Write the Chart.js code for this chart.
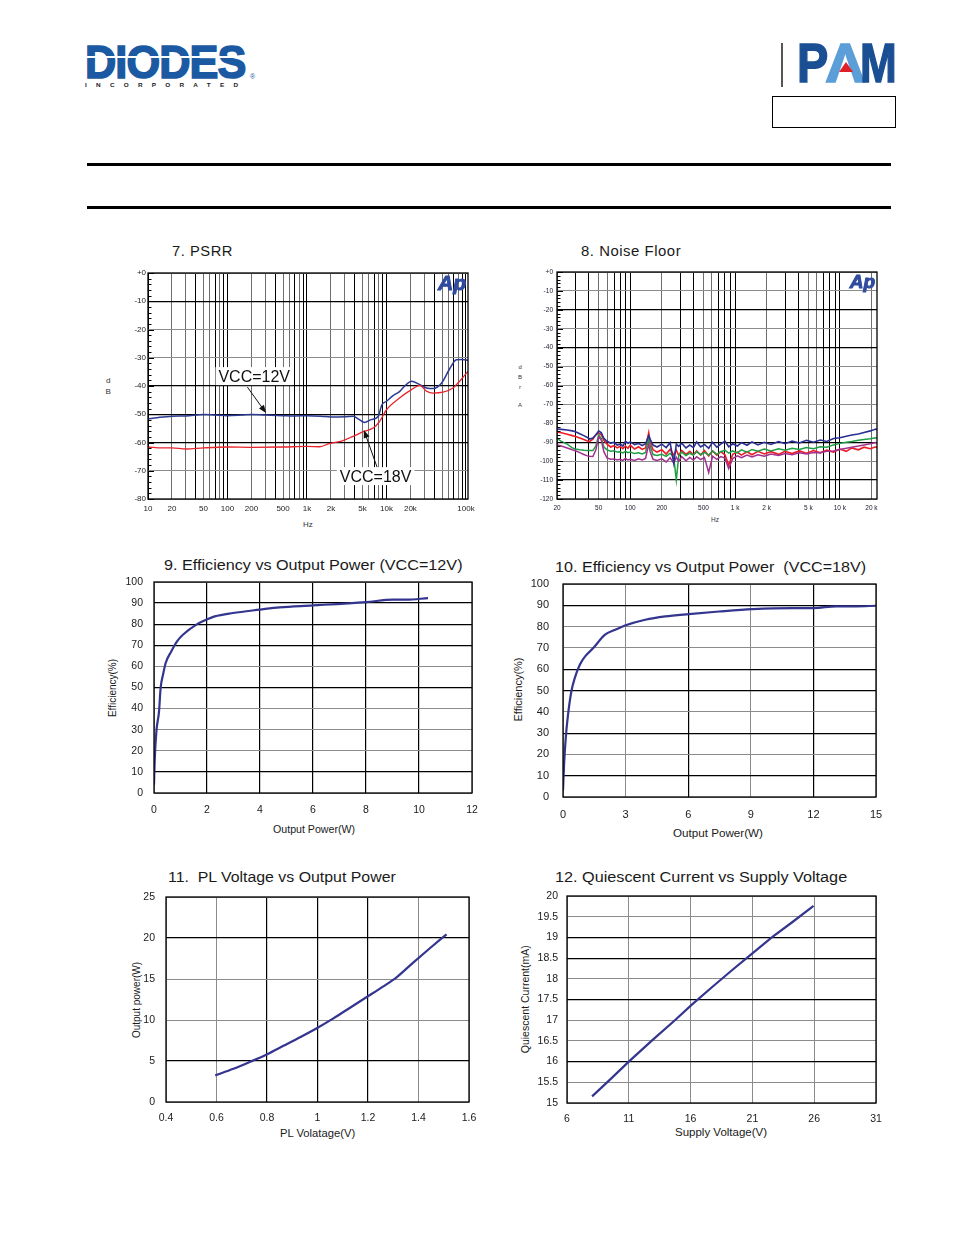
<!DOCTYPE html>
<html><head><meta charset="utf-8"><title>PAM typical performance curves</title>
<script src="https://cdn.jsdelivr.net/npm/chart.js@4.4.0/dist/chart.umd.min.js"></script>
<style>
html,body{margin:0;padding:0;background:#fff;}
body{width:954px;height:1235px;position:relative;overflow:hidden;font-family:"Liberation Sans",Arial,sans-serif;}
canvas{position:absolute;}
.t{position:absolute;white-space:nowrap;color:#1a1a1a;}
.r{position:absolute;background:#000;}
</style></head><body>
<div class="r" style="left:87px;top:163px;width:804px;height:2.5px"></div>
<div class="r" style="left:87px;top:206px;width:804px;height:2.5px"></div>
<div class="r" style="left:781px;top:43px;width:1.5px;height:44px;background:#555"></div>
<div style="position:absolute;left:772px;top:96px;width:122px;height:30px;border:1.3px solid #000"></div>
<script>
// ---------------- data ----------------
const psrr12Freq=[10,13,20,30,50,70,100,150,200,300,500,700,1000,1500,2000,3000,3800,4500,5300,6400,7900,8700,10000,12000,14700,17000,20600,26200,31800,38500,49100,62400,75600,90000,106000];
const psrr12dB=[-51.6,-51.2,-50.7,-50.6,-50.1,-50.3,-50.5,-50.3,-50.1,-50.3,-50.5,-50.6,-50.5,-50.7,-51.0,-50.9,-50.7,-51.8,-52.9,-51.9,-50.7,-46.8,-45.4,-43.5,-41.9,-40.0,-38.3,-39.5,-40.7,-40.9,-39.0,-33.9,-30.7,-30.6,-30.9];
const psrr18Freq=[10,15,20,30,50,100,200,500,1000,1450,1900,2800,3800,5300,6800,8200,10000,14700,20600,26200,31800,38500,51400,68700,83200,106000];
const psrr18dB=[-61.6,-61.9,-61.9,-62.3,-61.9,-61.6,-61.7,-61.6,-61.4,-61.5,-60.4,-59.4,-57.8,-56.0,-54.9,-52.5,-48.4,-44.2,-41.3,-39.8,-41.8,-42.5,-42.2,-40.7,-38.3,-34.8];
const psrrTickValues=[10,20,50,100,200,500,1000,2000,5000,10000,20000,100000];
const psrrTickLabels=['10','20','50','100','200','500','1k','2k','5k','10k','20k','100k'];

const noiseFreq=[20,22,25,28,30,33,36,39,41,44,47,50,53,56,60,65,70,75,80,85,90,95,100,110,120,130,140,150,155,165,180,200,220,240,260,275,290,310,340,370,400,430,470,510,560,610,670,730,800,870,950,1050,1150,1300,1450,1650,1900,2200,2600,3000,3500,4100,4800,5600,6500,7500,8700,10000,11500,13000,15000,17000,19500,22000,22600];
const noiseBlue=[-83.0,-83.2,-83.5,-84.0,-84.5,-85.5,-86.5,-87.5,-88.3,-87.8,-86.0,-84.0,-85.0,-88.0,-89.5,-90.5,-90.0,-91.5,-91.0,-92.0,-89.5,-90.5,-89.8,-91.2,-90.6,-91.8,-90.8,-86.5,-88.5,-91.5,-92.5,-91.0,-92.8,-90.2,-101.0,-91.0,-92.2,-90.5,-93.0,-91.5,-92.8,-89.8,-92.5,-91.2,-93.2,-90.0,-92.6,-91.0,-89.4,-92.4,-90.8,-92.0,-90.2,-91.6,-89.8,-91.4,-90.0,-91.2,-89.6,-90.8,-89.4,-90.4,-89.0,-90.0,-88.8,-89.6,-88.0,-87.6,-86.8,-86.2,-85.6,-84.8,-84.0,-83.0,-83.4];
const noiseGreen=[-88.0,-89.5,-91.0,-93.0,-93.6,-94.0,-94.2,-94.3,-94.3,-94.4,-92.0,-86.0,-88.0,-92.5,-94.0,-94.8,-94.5,-95.2,-95.0,-95.6,-94.8,-95.5,-95.2,-96.0,-95.6,-96.2,-95.4,-88.0,-92.0,-96.5,-97.0,-96.4,-97.5,-95.8,-98.0,-110.0,-97.2,-95.2,-97.0,-95.8,-96.8,-95.0,-96.6,-95.4,-96.8,-94.6,-96.4,-95.0,-94.2,-95.8,-94.6,-95.6,-94.0,-95.2,-93.8,-94.8,-93.6,-94.6,-93.4,-94.2,-93.2,-93.8,-92.8,-93.4,-92.4,-92.6,-91.4,-90.6,-90.0,-89.6,-89.0,-88.6,-88.2,-87.6,-88.0];
const noiseMagenta=[-91.5,-92.0,-93.0,-94.0,-94.5,-95.5,-96.5,-97.2,-97.4,-97.5,-94.0,-87.0,-89.0,-95.0,-98.3,-99.0,-98.8,-99.4,-99.0,-99.6,-98.6,-99.4,-99.0,-99.6,-98.8,-99.4,-98.6,-91.0,-95.0,-99.0,-99.6,-98.8,-100.4,-98.2,-101.0,-98.0,-100.0,-97.6,-99.8,-98.0,-99.4,-97.6,-99.2,-98.0,-106.0,-97.4,-99.0,-97.6,-98.4,-104.0,-98.6,-97.2,-98.2,-96.8,-97.8,-96.6,-97.4,-96.2,-97.0,-96.0,-96.6,-95.6,-96.2,-95.4,-95.6,-94.8,-94.6,-93.8,-93.2,-92.6,-92.0,-91.4,-90.8,-90.2,-90.6];
const noiseRed=[-84.5,-85.0,-85.8,-86.5,-87.0,-87.8,-88.5,-89.3,-89.6,-88.4,-86.0,-85.2,-86.0,-89.0,-91.0,-92.5,-91.8,-93.0,-92.2,-93.4,-92.0,-93.2,-91.6,-93.6,-92.4,-93.8,-93.0,-85.0,-90.0,-94.0,-95.2,-94.0,-96.2,-93.8,-96.8,-94.2,-97.0,-94.4,-96.4,-94.8,-96.6,-94.6,-96.8,-94.4,-97.2,-94.6,-96.8,-95.0,-96.6,-102.0,-96.4,-95.2,-96.8,-95.0,-96.6,-94.8,-96.2,-95.0,-96.4,-94.8,-96.0,-94.6,-95.8,-94.4,-95.6,-94.2,-95.2,-93.6,-94.8,-93.0,-94.0,-92.6,-93.4,-92.4,-93.0];
const noiseTickValues=[20,50,100,200,500,1000,2000,5000,10000,20000];
const noiseTickLabels=['20','50','100','200','500','1 k','2 k','5 k','10 k','20 k'];

const eff12Power=[0,0.025,0.09,0.19,0.25,0.34,0.44,0.65,0.87,1.09,1.6,1.97,2.29,2.98,3.99,4.74,6.0,8.01,9.02,9.52,10.34];
const eff12Value=[3.9,15,29.2,38.7,49.8,56,61.6,67.1,71.9,75,79.8,82.1,83.7,85.3,86.9,88,88.9,90.5,91.6,91.6,92.4];
const eff18Power=[0,0.05,0.13,0.24,0.4,0.56,0.8,1.05,1.45,2.0,2.5,2.97,3.94,4.9,6.03,7.48,9.08,11.0,12.0,13.1,14.07,15.0];
const eff18Value=[3.1,14.9,27.5,38.5,49.5,55.7,62,65.9,69.9,76.1,78.5,80.5,83.2,84.8,85.9,87.1,88.2,88.7,88.7,89.5,89.5,89.8];
const plVoltage=[0.595,0.667,0.733,0.799,0.865,0.931,0.997,1.063,1.129,1.195,1.261,1.313,1.379,1.445,1.511];
const plPower=[3.25,4.05,4.9,5.8,6.85,7.9,9.0,10.2,11.5,12.8,14.1,15.2,17.0,18.75,20.45];
const supplyVoltage=[8.03,9.5,11.0,12.84,14.73,16.08,17.7,19.32,20.95,22.57,24.19,25.95];
const quiescentCurrent=[15.16,15.57,16.0,16.5,17.0,17.37,17.79,18.2,18.6,19.0,19.36,19.76];

// ---------------- helpers ----------------
const FONT='"Liberation Sans", Arial, sans-serif';
const near=(a,b)=>Math.abs(a-b)<1e-6;
const sig=v=>Math.round(v/Math.pow(10,Math.floor(Math.log10(v)+1e-9)));
const fmt=v=>String(Number(Number(v).toFixed(2)));
const pts=(xs,ys)=>xs.map((x,i)=>({x:x,y:ys[i]}));
function linGrid(blacks){return {color:c=>blacks.some(b=>near(b,c.tick.value))?'#000':'#8c8c8c',lineWidth:c=>blacks.some(b=>near(b,c.tick.value))?1.2:1};}
function logGrid(blackSigs){return {color:c=>blackSigs.includes(sig(c.tick.value))?'#000':'#6e6e6e',lineWidth:1};}
function logTicks(from,to){const a=[];for(let e=Math.floor(Math.log10(from));e<=Math.ceil(Math.log10(to));e++){for(let m=1;m<=9;m++){const v=m*Math.pow(10,e);if(v>=from-1e-9&&v<=to+1e-9)a.push(v);}}return a;}
function txt(s,x,y,size,o){
  o=o||{};
  const d=document.createElement('div');d.className='t';d.textContent=s;
  d.style.fontSize=size+'px';d.style.lineHeight=size+'px';
  if(o.weight)d.style.fontWeight=o.weight;
  if(o.color)d.style.color=o.color;
  if(o.ls!==undefined)d.style.letterSpacing=o.ls+'px';
  if(o.stroke)d.style.webkitTextStroke=o.stroke+'px '+(o.color||'#000');
  document.body.appendChild(d);
  const w=d.offsetWidth;
  const sx=o.w?o.w/w:1;
  d.style.top=(y-size/2)+'px';
  if(o.align==='left'){d.style.left=x+'px';d.style.transformOrigin='0 50%';d.style.transform='scaleX('+sx+')';}
  else if(o.rot){d.style.left=x+'px';d.style.transform='translateX(-50%) rotate('+o.rot+'deg)';}
  else{d.style.left=(x-w*sx/2)+'px';d.style.transformOrigin='0 50%';d.style.transform='scaleX('+sx+')';}
  return d;
}

const extras={
  id:'extras',
  afterDraw(chart){
    const e=chart.canvas._extras||{};
    const ctx=chart.ctx,a=chart.chartArea,x=chart.scales.x,y=chart.scales.y;
    ctx.save();
    if(e.minor){
      ctx.strokeStyle='#000';ctx.lineWidth=1;ctx.beginPath();
      for(let v=y.min;v<=y.max+1e-9;v+=e.minor){
        const py=Math.round(y.getPixelForValue(v))+0.5;
        const len=Math.abs(v%10)<1e-6?6:3.5;
        ctx.moveTo(a.left,py);ctx.lineTo(a.left+len,py);
      }
      ctx.stroke();
    }
    ctx.strokeStyle='#000';ctx.lineWidth=e.borderW||1.3;
    ctx.strokeRect(a.left,a.top,a.right-a.left,a.bottom-a.top);
    if(e.ap){
      ctx.font='italic bold '+e.ap+'px '+FONT;ctx.fillStyle='#2f4c9e';ctx.strokeStyle='#2f4c9e';ctx.lineWidth=1;
      ctx.textAlign='right';ctx.textBaseline='top';
      ctx.fillText('Ap',a.right-2,a.top+1);ctx.strokeText('Ap',a.right-2,a.top+1);
    }
    (e.notes||[]).forEach(n=>{
      const tx=x.getPixelForValue(n.at[0]),ty=y.getPixelForValue(n.at[1]);
      ctx.font=n.size+'px '+FONT;
      const w=ctx.measureText(n.text).width;
      ctx.fillStyle='#fff';ctx.fillRect(tx-w/2-3,ty-n.size/2-1,w+6,n.size+2);
      ctx.fillStyle='#111';ctx.textAlign='center';ctx.textBaseline='middle';
      ctx.fillText(n.text,tx,ty+1);
      const x0=x.getPixelForValue(n.from[0]),y0=y.getPixelForValue(n.from[1]);
      const x1=x.getPixelForValue(n.to[0]),y1=y.getPixelForValue(n.to[1]);
      const ang=Math.atan2(y1-y0,x1-x0);
      ctx.strokeStyle='#111';ctx.lineWidth=1;ctx.beginPath();ctx.moveTo(x0,y0);ctx.lineTo(x1-6*Math.cos(ang),y1-6*Math.sin(ang));ctx.stroke();
      ctx.beginPath();ctx.moveTo(x1,y1);
      ctx.lineTo(x1-8*Math.cos(ang)+3*Math.sin(ang),y1-8*Math.sin(ang)-3*Math.cos(ang));
      ctx.lineTo(x1-8*Math.cos(ang)-3*Math.sin(ang),y1-8*Math.sin(ang)+3*Math.cos(ang));
      ctx.closePath();ctx.fillStyle='#111';ctx.fill();
    });
    ctx.restore();
  }
};

function makeChart(c){
  const cv=document.createElement('canvas');
  cv.width=c.box[2];cv.height=c.box[3];
  cv.style.left=c.box[0]+'px';cv.style.top=c.box[1]+'px';
  cv._extras=c.extras||{};
  document.body.appendChild(cv);
  const xs={type:c.xType||'linear',min:c.xMin,max:c.xMax,position:'bottom',
    grid:Object.assign({drawTicks:false},c.xGrid),border:{display:false},
    ticks:{autoSkip:false,maxRotation:0,minRotation:0,padding:c.xPad,color:c.tickColor||'#1a1a1a',font:{family:FONT,size:c.xFont},callback:c.xLabel||fmt},
    afterFit:s=>{s.height=c.xH;s.paddingLeft=0;s.paddingRight=0;}};
  if(c.xStep)xs.ticks.stepSize=c.xStep;
  if(c.xTicks)xs.afterBuildTicks=s=>{s.ticks=c.xTicks.map(v=>({value:v}));};
  const ys={type:'linear',min:c.yMin,max:c.yMax,position:'left',
    grid:Object.assign({drawTicks:false},c.yGrid),border:{display:false},
    ticks:{autoSkip:false,stepSize:c.yStep,padding:c.yPad,color:c.tickColor||'#1a1a1a',font:{family:FONT,size:c.yFont},callback:c.yLabel||fmt},
    afterFit:s=>{s.width=c.yW;s.paddingTop=0;s.paddingBottom=0;}};
  return new Chart(cv,{type:'scatter',data:{datasets:c.datasets},
    options:{responsive:false,animation:false,layout:{padding:c.pad},
      plugins:{legend:{display:false},tooltip:{enabled:false}},
      scales:{x:xs,y:ys}},
    plugins:[extras]});
}
function line(data,color,width,smooth){
  return {data:data,showLine:true,borderColor:color,borderWidth:width,pointRadius:0,fill:false,
    tension:smooth?0.4:0,cubicInterpolationMode:smooth?'monotone':'default'};
}
const CURVE='#33358f';

// ---------------- header ----------------
txt('DIODES',85,61.5,46,{weight:'bold',color:'#1b5aa3',w:160,align:'left',ls:-1,stroke:1.6});
const stripe=document.createElement('div');stripe.className='r';stripe.style.cssText='left:84px;top:56px;width:164px;height:1.5px;background:#fff';document.body.appendChild(stripe);
txt('INCORPORATED',85,85.5,5.5,{weight:'bold',color:'#222',w:162,align:'left',ls:8});
txt('®',250,76,7,{color:'#1b5aa3',align:'left'});
txt('P',797,62.5,56,{weight:'bold',color:'#1b4f94',w:31,align:'left',stroke:1.5});
txt('Λ',826,62.5,56,{weight:'bold',color:'#5b9ed8',w:38,align:'left',stroke:1.5});
txt('M',860,62.5,56,{weight:'bold',color:'#1b4f94',w:37,align:'left',stroke:1.5});
const tri=document.createElement('div');tri.style.cssText='position:absolute;left:839px;top:62px;width:0;height:0;border-left:7px solid transparent;border-right:7px solid transparent;border-bottom:10px solid #e01f26';document.body.appendChild(tri);

// ---------------- titles & axis titles ----------------
txt('7. PSRR',172,251,14,{align:'left',w:61,ls:0.5});
txt('8. Noise Floor',581,251,14,{align:'left',w:100,ls:0.5});
txt('9. Efficiency vs Output Power (VCC=12V)',164,565,14,{align:'left',w:298});
txt('10. Efficiency vs Output Power\u00a0\u00a0(VCC=18V)',555,566.5,14,{align:'left',w:311});
txt('11.\u00a0\u00a0PL Voltage vs Output Power',168,876.5,14,{align:'left',w:228});
txt('12. Quiescent Current vs Supply Voltage',555,876.5,14,{align:'left',w:292});

txt('d',108,381,8,{color:'#333'});txt('B',108,392,8,{color:'#333'});
txt('Hz',308,525,8,{color:'#333'});
txt('d',520,367,6,{color:'#334'});txt('B',520,377,6,{color:'#334'});txt('r',520,387,6,{color:'#334'});txt('A',520,405,6,{color:'#334'});
txt('Hz',715,520,6.5,{color:'#334'});
txt('Efficiency(%)',113,688,10,{rot:-90});
txt('Output Power(W)',314,829.5,10.5,{w:82});
txt('Efficiency(%)',518,689,11,{rot:-90});
txt('Output Power(W)',718,833.5,11,{w:90});
txt('Output power(W)',137,1000,10,{rot:-90});
txt('PL Volatage(V)',317,1133,10.5,{w:75});
txt('Quiescent Current(mA)',525,999,10.5,{rot:-90});
txt('Supply Voltage(V)',721,1132,10.5,{w:92});

// ---------------- charts ----------------
const dbLabel=v=>v===0?'+0':String(v);
makeChart({box:[100,240,380,295],pad:{left:0,top:33,right:12,bottom:8},yW:48,xH:28,
  xType:'logarithmic',xMin:10,xMax:106000,xTicks:logTicks(10,100000),
  xLabel:v=>{const i=psrrTickValues.indexOf(v);return i>=0?psrrTickLabels[i]:'';},
  xGrid:logGrid([1,4,7,9]),xPad:5,xFont:8,
  yMin:-80,yMax:0,yStep:10,yLabel:dbLabel,yGrid:linGrid([-10,-40,-50,-60]),yPad:2,yFont:8,tickColor:'#222',
  extras:{minor:2,ap:21,notes:[
    {text:'VCC=12V',size:16,at:[217,-36.5],from:[178,-40.4],to:[306,-49.6]},
    {text:'VCC=18V',size:16,at:[7300,-71.9],from:[7600,-68.7],to:[5200,-55.6]}]},
  datasets:[line(pts(psrr18Freq,psrr18dB),'#e8242c',1.3,true),line(pts(psrr12Freq,psrr12dB),'#2b3a92',1.5,true)]});

makeChart({box:[505,240,385,295],pad:{left:0,top:32,right:13,bottom:14},yW:52,xH:22,
  xType:'logarithmic',xMin:20,xMax:22600,xTicks:logTicks(20,20000),
  xLabel:v=>{const i=noiseTickValues.indexOf(v);return i>=0?noiseTickLabels[i]:'';},
  xGrid:logGrid([1,3,4,7,8,9]),xPad:5,xFont:6.5,
  yMin:-120,yMax:0,yStep:10,yLabel:dbLabel,yGrid:linGrid([-20,-40,-90,-110]),yPad:4,yFont:6.5,tickColor:'#223',
  extras:{minor:2,ap:19},
  datasets:[line(pts(noiseFreq,noiseBlue),'#2a2f92',1.6,false),line(pts(noiseFreq,noiseMagenta),'#a2308f',1.5,false),
    line(pts(noiseFreq,noiseGreen),'#1f9e45',1.5,false),line(pts(noiseFreq,noiseRed),'#ee1c25',1.6,false)]});

makeChart({box:[100,570,385,270],pad:{left:0,top:12,right:13,bottom:22},yW:54,xH:25,
  xMin:0,xMax:12,xStep:2,xGrid:linGrid([2,4,6,8,10]),xPad:11,xFont:10.5,
  yMin:0,yMax:100,yStep:10,yGrid:linGrid([90,80,70,50,10]),yPad:11,yFont:10.5,
  datasets:[line(pts(eff12Power,eff12Value),CURVE,2.2,true)]});

makeChart({box:[505,570,385,275],pad:{left:0,top:14,right:14,bottom:23},yW:58,xH:25,
  xMin:0,xMax:15,xStep:3,xGrid:linGrid([6,12]),xPad:11,xFont:11,
  yMin:0,yMax:100,yStep:10,yGrid:linGrid([90,60,50,30,10]),yPad:14,yFont:11,
  datasets:[line(pts(eff18Power,eff18Value),CURVE,2.2,true)]});

makeChart({box:[100,885,385,260],pad:{left:0,top:12,right:16,bottom:18},yW:66,xH:25,
  xMin:0.4,xMax:1.6,xStep:0.2,xGrid:linGrid([0.8,1.0,1.2]),xPad:10,xFont:10.5,
  yMin:0,yMax:25,yStep:5,yGrid:linGrid([20,5]),yPad:11,yFont:10.5,
  datasets:[line(pts(plVoltage,plPower),CURVE,2.2,true)]});

makeChart({box:[505,885,385,260],pad:{left:0,top:11,right:14,bottom:17},yW:62,xH:25,
  xMin:6,xMax:31,xStep:5,xGrid:linGrid([]),xPad:10,xFont:10.5,
  yMin:15,yMax:20,yStep:0.5,yGrid:linGrid([19,18.5,17.5,16]),yPad:9,yFont:10.5,
  datasets:[line(pts(supplyVoltage,quiescentCurrent),CURVE,2.2,false)]});
</script>
</body></html>
